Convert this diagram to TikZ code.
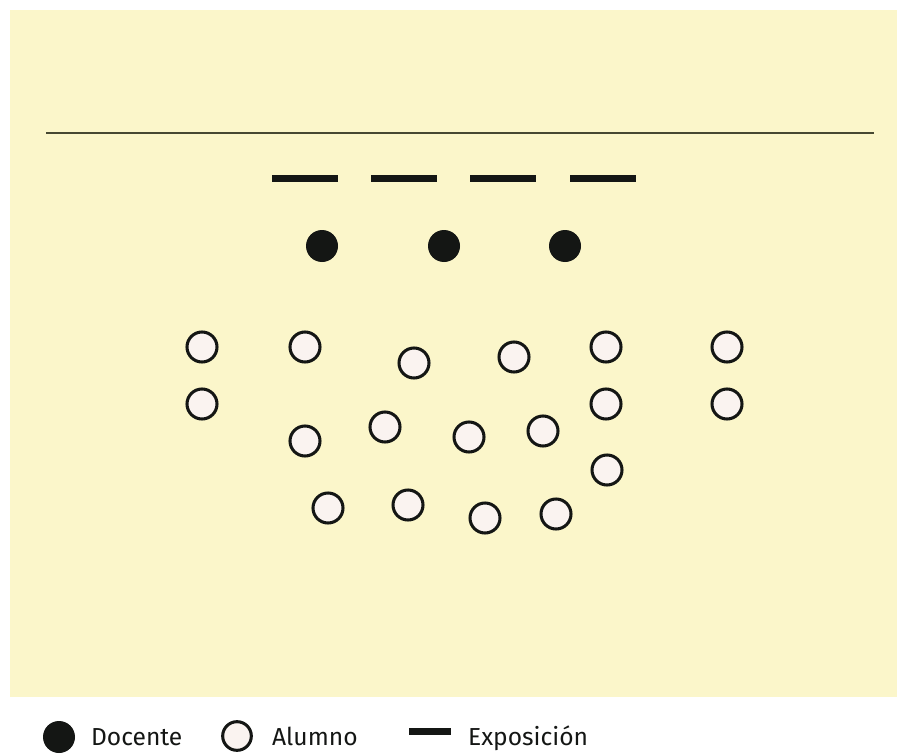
\documentclass[tikz,border=0pt]{standalone}
\usepackage{fontspec}
\setmainfont{Fira Sans}
\usetikzlibrary{positioning}
\definecolor{aulayellow}{RGB}{251,246,202}
\definecolor{inkdark}{RGB}{20,22,20}
\definecolor{seatwhite}{RGB}{250,243,240}
\definecolor{boardline}{RGB}{70,72,50}

\begin{document}
\begin{tikzpicture}[x=0.3mm,y=-0.3mm,
    docente/.style={circle,fill=inkdark,inner sep=0pt,minimum size=9.6mm},
    alumno/.style={circle,draw=inkdark,line width=2.6pt,fill=seatwhite,
                   inner sep=0pt,minimum size=9.0mm},
    expo/.style={line width=2.1mm,inkdark},
    legendtext/.style={anchor=base west,font=\fontsize{21}{23}\selectfont,
                       text=inkdark}]
    \useasboundingbox (0,0) rectangle (909,753);
    % the room
    \fill[aulayellow] (10,10) rectangle (897,697);
    \draw[boardline,line width=1.1pt] (46,133) -- (874,133);
    % exposition marks
    \foreach \xa in {272,371,470,570}
      \draw[expo] (\xa,178) -- ++(66,0);
    % teachers
    \foreach \x [count=\i] in {322,444,565}
      \node[docente] (doc\i) at (\x,246) {};
    % students
    \foreach \x/\y [count=\i] in {202/347, 305/347, 414/363, 514/357, 606/347,
        727/347, 202/404, 606/404, 727/404, 305/441, 385/427, 469/437,
        543/431, 607/470, 328/508, 408/505, 485/518, 556/514}
      \node[alumno] (alu\i) at (\x,\y) {};
    % legend
    \node[docente] (legdoc) at (59,737) {};
    \node[legendtext] (legdoctxt) at (87,745) {Docente};
    \node[alumno,minimum size=8.6mm] (legalu) at (237,736) {};
    \node[legendtext] (legalutxt) at (268,745) {Alumno};
    \coordinate (legexpo) at (409,731);
    \draw[expo] (legexpo) -- ++(42,0);
    \node[legendtext] (legexpotxt) at (464,745) {Exposición};
\end{tikzpicture}
\end{document}
